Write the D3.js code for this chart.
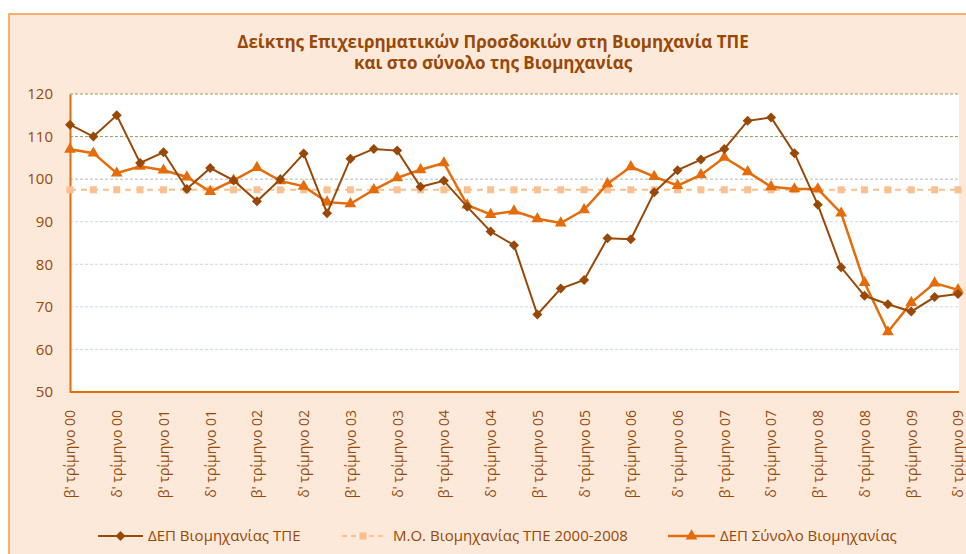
<!DOCTYPE html>
<html>
<head>
<meta charset="utf-8">
<script src="https://cdn.jsdelivr.net/npm/d3@7"></script>
<style>
  body { margin: 0; background: #fff; }
  text { font-family: "Open Sans", "Noto Sans", sans-serif; }
</style>
</head>
<body>
<div id="chart"></div>
<script>
// quarters: β' τρίμηνο 2000 ... δ' τρίμηνο 2009
const quarters = [];
for (let y = 0; y < 10; y++) {
    const yy = String(y).padStart(2, "0");
    ["α'", "β'", "γ'", "δ'"].forEach((q, i) => {
        if (y === 0 && i === 0) return;
        quarters.push(q + " τρίμηνο " + yy);
    });
}

// ΔΕΠ Βιομηχανίας ΤΠΕ
const depTpe = [112.8, 110.0, 115.0, 103.8, 106.3, 97.7, 102.6, 99.7, 94.8, 100.0,
    106.0, 92.0, 104.8, 107.1, 106.7, 98.2, 99.6, 93.5, 87.7, 84.5,
    68.2, 74.3, 76.3, 86.1, 85.9, 96.9, 102.1, 104.6, 107.1, 113.7,
    114.5, 106.1, 94.0, 79.3, 72.6, 70.6, 68.9, 72.3, 73.0];

// ΔΕΠ Σύνολο Βιομηχανίας
const depTotal = [107.0, 106.1, 101.4, 103.0, 102.1, 100.5, 97.1, 99.7, 102.7, 99.6,
    98.3, 94.6, 94.2, 97.5, 100.3, 102.2, 103.8, 93.9, 91.7, 92.5,
    90.7, 89.7, 92.8, 98.9, 102.9, 100.6, 98.5, 101.0, 105.1, 101.7,
    98.2, 97.7, 97.7, 92.0, 75.7, 64.1, 71.0, 75.6, 74.0];

// Μ.Ο. Βιομηχανίας ΤΠΕ 2000-2008
const avgTpe = 97.5;

const yTicks = [50, 60, 70, 80, 90, 100, 110, 120];

const seriesNames = ["ΔΕΠ Βιομηχανίας ΤΠΕ", "Μ.Ο. Βιομηχανίας ΤΠΕ 2000-2008", "ΔΕΠ Σύνολο Βιομηχανίας"];

const width = 966, height = 554;
const textColor = "#984807";
const brown = "#984807", orange = "#E46C0A", peach = "#FAC090";

const svg = d3.select("#chart").append("svg")
    .attr("width", width)
    .attr("height", height);

// chart area background + border
svg.append("rect")
    .attr("x", 9).attr("y", 14)
    .attr("width", width).attr("height", height)
    .attr("fill", "#FDE9D9")
    .attr("stroke", "#F79646")
    .attr("stroke-width", 1.5);

// title
const title = svg.append("text")
    .attr("text-anchor", "middle")
    .attr("fill", textColor)
    .style("font-size", "17px")
    .style("font-weight", "bold");
title.append("tspan").attr("x", 493).attr("y", 48)
    .text("Δείκτης Επιχειρηματικών Προσδοκιών στη Βιομηχανία ΤΠΕ");
title.append("tspan").attr("x", 493).attr("y", 69)
    .text("και στο σύνολο της Βιομηχανίας");

const margin = { left: 70, top: 94, right: 958, bottom: 392 };

const x = d3.scalePoint()
    .domain(quarters)
    .range([margin.left, margin.right]);

const y = d3.scaleLinear()
    .domain([50, 120])
    .range([margin.bottom, margin.top]);

// plot area
svg.append("rect")
    .attr("x", margin.left).attr("y", margin.top)
    .attr("width", 889).attr("height", margin.bottom - margin.top)
    .attr("fill", "#fff");

// grid lines
const gridColor = v => v >= 110 ? "#9A9A62" : (v === 100 ? "#B8B8B8" : "#C9D7F0");
svg.append("g")
    .selectAll("line")
    .data(yTicks.filter(v => v > 50))
    .join("line")
    .attr("x1", margin.left).attr("x2", 959)
    .attr("y1", d => y(d)).attr("y2", d => y(d))
    .attr("stroke", d => gridColor(d))
    .attr("stroke-width", 1)
    .attr("stroke-dasharray", "3,2");

// y axis
const yAxis = svg.append("g")
    .attr("transform", `translate(${margin.left},0)`)
    .call(d3.axisLeft(y).tickValues(yTicks).tickSize(0).tickPadding(17));
yAxis.select(".domain").attr("stroke", orange).attr("stroke-width", 2);
yAxis.selectAll("text")
    .attr("fill", textColor)
    .style("font-size", "15px")
    .style("font-family", "'Open Sans', sans-serif");

// x axis
const xAxis = svg.append("g")
    .attr("transform", `translate(0,${margin.bottom})`)
    .call(d3.axisBottom(x)
        .tickValues(quarters.filter((d, i) => i % 2 === 0))
        .tickSize(0));
xAxis.select(".domain").attr("stroke", orange).attr("stroke-width", 2)
    .attr("d", `M${margin.left},0H959`);
xAxis.selectAll("text")
    .attr("fill", textColor)
    .style("font-size", "14px")
    .style("font-family", "'Open Sans', sans-serif")
    .attr("text-anchor", "end")
    .attr("transform", "rotate(-90)")
    .attr("x", -18)
    .attr("y", 0)
    .attr("dy", "0.35em");

const line = d3.line()
    .x((d, i) => x(quarters[i]))
    .y(d => y(d));

// average line
const avgData = quarters.map(() => avgTpe);
svg.append("path")
    .datum(avgData)
    .attr("d", line)
    .attr("fill", "none")
    .attr("stroke", peach)
    .attr("stroke-width", 2)
    .attr("stroke-dasharray", "6,5");
svg.append("g").selectAll("rect")
    .data(avgData)
    .join("rect")
    .attr("x", (d, i) => x(quarters[i]) - 3.5)
    .attr("y", d => y(d) - 3.5)
    .attr("width", 7).attr("height", 7)
    .attr("fill", peach);

// total industry line
svg.append("path")
    .datum(depTotal)
    .attr("d", line)
    .attr("fill", "none")
    .attr("stroke", orange)
    .attr("stroke-width", 2.5);
const triangle = d3.symbol().type(d3.symbolTriangle).size(60);
svg.append("g").selectAll("path")
    .data(depTotal)
    .join("path")
    .attr("d", triangle)
    .attr("transform", (d, i) => `translate(${x(quarters[i])},${y(d)})`)
    .attr("fill", orange);

// ICT industry line
svg.append("path")
    .datum(depTpe)
    .attr("d", line)
    .attr("fill", "none")
    .attr("stroke", brown)
    .attr("stroke-width", 2);
// square diamond (rotated square)
const diamond = "M0,-5L5,0L0,5L-5,0Z";
svg.append("g").selectAll("path")
    .data(depTpe)
    .join("path")
    .attr("d", diamond)
    .attr("transform", (d, i) => `translate(${x(quarters[i])},${y(d)})`)
    .attr("fill", brown);

// legend
const legendY = 536;
const legend = [
    { name: seriesNames[0], x1: 98, x2: 143, color: brown, dash: null, w: 2, mark: diamond, tx: 148 },
    { name: seriesNames[1], x1: 342, x2: 384, color: peach, dash: "5,4", w: 2, mark: null, tx: 393 },
    { name: seriesNames[2], x1: 668, x2: 715, color: orange, dash: null, w: 2.5, mark: triangle, tx: 720 }
];
const lg = svg.append("g").selectAll("g").data(legend).join("g");
lg.append("line")
    .attr("x1", d => d.x1).attr("x2", d => d.x2)
    .attr("y1", legendY).attr("y2", legendY)
    .attr("stroke", d => d.color)
    .attr("stroke-width", d => d.w)
    .attr("stroke-dasharray", d => d.dash);
lg.each(function(d) {
    const g = d3.select(this);
    const cx = (d.x1 + d.x2) / 2;
    if (d.mark) {
        g.append("path").attr("d", d.mark)
            .attr("transform", `translate(${cx},${legendY})`)
            .attr("fill", d.color);
    } else {
        g.append("rect").attr("x", cx - 3.5).attr("y", legendY - 3.5)
            .attr("width", 7).attr("height", 7).attr("fill", d.color);
    }
});
lg.append("text")
    .attr("x", d => d.tx).attr("y", legendY)
    .attr("dy", "0.35em")
    .attr("fill", textColor)
    .style("font-size", "15px")
    .text(d => d.name);
</script>
</body>
</html>
